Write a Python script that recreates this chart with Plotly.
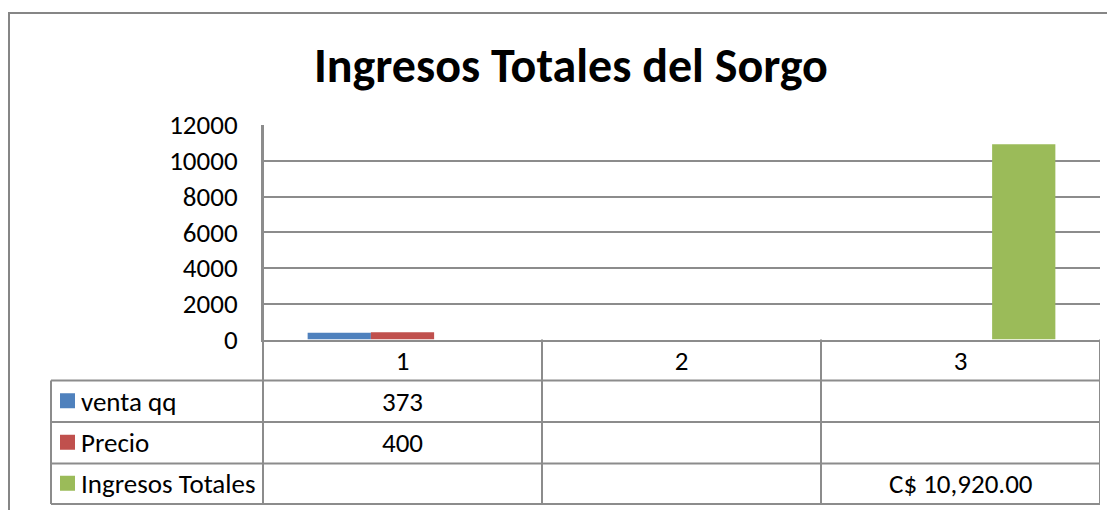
import plotly.graph_objects as go

# ---- data ----
categories = ["1", "2", "3"]
series_names = ["venta qq", "Precio", "Ingresos Totales"]
venta_qq = [373, None, None]
precio = [400, None, None]
ingresos = [None, None, 10920]
y_ticks = [0, 2000, 4000, 6000, 8000, 10000, 12000]
title_text = "Ingresos Totales del Sorgo"

colors = ["#4F81BD", "#C0504D", "#9BBB59"]
W, H = 1115, 510
OFF = 8  # page body margin
FONT = "Carlito, Calibri, Lato, sans-serif"
GRID = "#8C8C8C"
FS = 27


def px(x):
    return (x - OFF) / W


def py(y):
    return 1 - (y - OFF) / H


x_left, x_right = 263, 1100
y_zero, y_top = 339.5, 125
tbl_left = 51
row_lines = [380.5, 422, 463.5, 504]

fig = go.Figure()
for name, vals, c in zip(series_names, [venta_qq, precio, ingresos], colors):
    fig.add_trace(go.Bar(x=categories, y=vals, name=name, marker=dict(color=c, line=dict(width=0))))

shapes = []
line = dict(color=GRID, width=2)
# outer chart border
shapes.append(dict(type="rect", xref="paper", yref="paper", x0=px(9), x1=px(1135), y0=py(13), y1=py(540),
                   line=dict(color="#868686", width=2)))
# table horizontal lines
for r in row_lines:
    shapes.append(dict(type="line", xref="paper", yref="paper", x0=px(tbl_left), x1=px(x_right), y0=py(r), y1=py(r), line=line))
# left table edge
shapes.append(dict(type="line", xref="paper", yref="paper", x0=px(tbl_left), x1=px(tbl_left), y0=py(row_lines[0]), y1=py(row_lines[-1]), line=line))
# plot left edge extended into table
shapes.append(dict(type="line", xref="paper", yref="paper", x0=px(x_left), x1=px(x_left), y0=py(y_top), y1=py(row_lines[-1]), line=line))
# column separators & right edge (data x coords on category axis)
for cx in [0.5, 1.5, 2.5]:
    shapes.append(dict(type="line", xref="x", yref="paper", x0=cx, x1=cx, y0=py(y_zero), y1=py(row_lines[-1]), line=line))

annotations = []
row_centers = [(row_lines[i] + row_lines[i + 1]) / 2 for i in range(3)]
for i, (name, c) in enumerate(zip(series_names, colors)):
    yc = row_centers[i]
    shapes.append(dict(type="rect", xref="paper", yref="paper", x0=px(60), x1=px(75), y0=py(yc - 8), y1=py(yc + 7),
                       fillcolor=c, line=dict(width=0)))
    annotations.append(dict(text=name, xref="paper", yref="paper", x=px(79), y=py(yc), xanchor="left", yanchor="middle",
                            showarrow=False, font=dict(family=FONT, size=FS, color="black")))

for i, vals in enumerate([venta_qq, precio, ingresos]):
    for j, v in enumerate(vals):
        if v is None:
            continue
        txt = f"C$ {v:,.2f}" if i == 2 else f"{v}"
        annotations.append(dict(text=txt, xref="x", yref="paper", x=j, y=py(row_centers[i]),
                                xanchor="center", yanchor="middle", showarrow=False,
                                font=dict(family=FONT, size=FS, color="black")))

annotations.append(dict(text=f"<b>{title_text}</b>", xref="paper", yref="paper", x=px(571), y=py(65),
                        xanchor="center", yanchor="middle", showarrow=False,
                        font=dict(family=FONT, size=48, color="black")))

fig.update_layout(
    width=W, height=H,
    margin=dict(l=0, r=0, t=0, b=0, autoexpand=False),
    paper_bgcolor="white", plot_bgcolor="white",
    barmode="group", bargap=0.32, bargroupgap=0,
    showlegend=False,
    shapes=shapes, annotations=annotations,
    xaxis=dict(domain=[px(x_left), px(x_right)], range=[-0.5, 2.5], type="category",
               showline=True, linecolor=GRID, linewidth=2, showgrid=False, ticks="",
               automargin=False,
               tickfont=dict(family=FONT, size=FS, color="black"), ticklabelstandoff=-4),
    yaxis=dict(domain=[py(y_zero), py(y_top)], range=[0, 12000], tickvals=y_ticks,
               ticktext=[str(v) for v in y_ticks], automargin=False,
               showline=True, linecolor=GRID, linewidth=2, showgrid=True, gridcolor=GRID, gridwidth=2,
               zeroline=False, ticks="", tickfont=dict(family=FONT, size=FS, color="black"),
               ticklabelstandoff=18),
)

fig.write_html("out.html")
